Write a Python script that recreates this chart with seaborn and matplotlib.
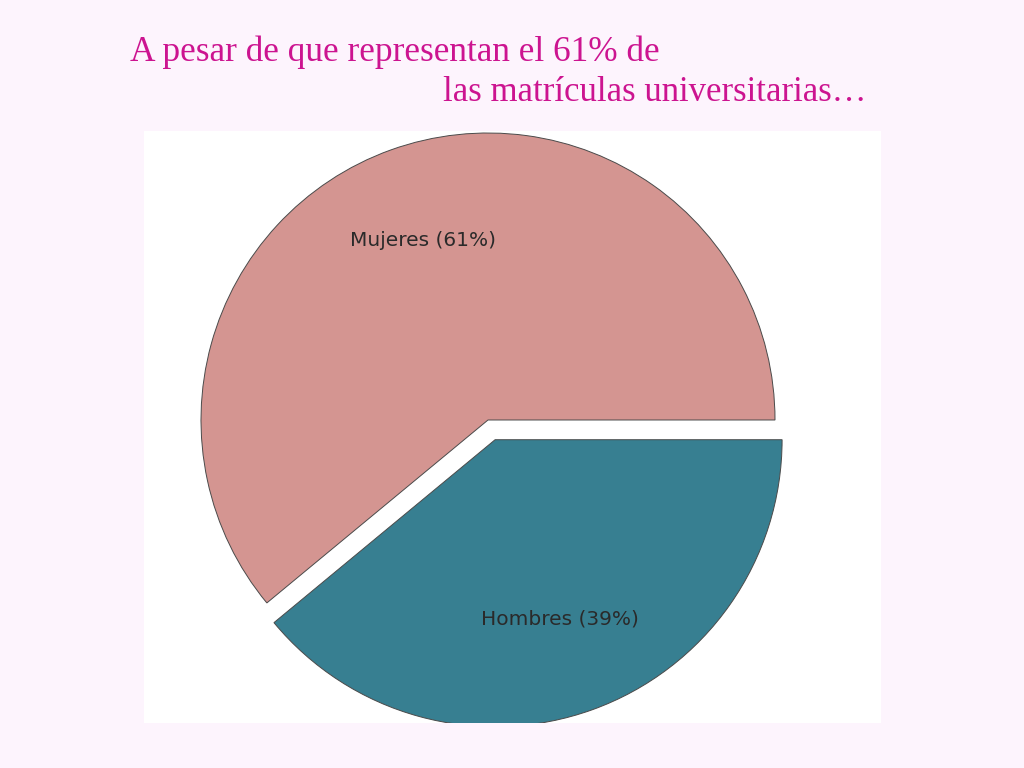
import matplotlib
matplotlib.use("Agg")
import matplotlib.pyplot as plt
import seaborn as sns

# Data
categories = ["Mujeres", "Hombres"]
shares = [61, 39]
slice_labels = ["Mujeres (61%)", "Hombres (39%)"]
title_line1 = "A pesar de que representan el 61% de"
title_line2 = "las matrículas universitarias…"

sns.set_style("white")
plt.rcParams["font.family"] = ["DejaVu Sans"]

colors = ["#d49591", "#377f91"]
bg = "#fdf4fd"

fig = plt.figure(figsize=(10.24, 7.68), dpi=100, facecolor=bg)

# white panel holding the pie (pixel layout: x 144..881, y 131..723)
W, H = 1024.0, 768.0
px_l, px_r, px_t, px_b = 144, 881, 131, 723
ax = fig.add_axes([px_l / W, (H - px_b) / H, (px_r - px_l) / W, (px_b - px_t) / H])

wedges, texts = ax.pie(
    shares,
    labels=slice_labels,
    colors=colors,
    startangle=0,
    counterclock=True,
    explode=[0, 0.073],
    labeldistance=0.665,
    wedgeprops=dict(edgecolor="#4a4a4a", linewidth=0.7),
    textprops=dict(fontsize=14.5, color="#2a2a2a"),
    frame=True,
)
for t in texts:
    t.set_ha("center")
    t.set_va("center")
for w in wedges:
    w.set_clip_on(True)
    w.set_clip_path(ax.patch)

# map pie centre to pixel (488, 420) with radius 287 px
cx, cy, r = 488, 420, 287
ax.set_aspect("auto")
ax.set_xlim(-(cx - px_l) / r, (px_r - cx) / r)
ax.set_ylim(-(px_b - cy) / r, (cy - px_t) / r)
ax.set_facecolor("white")
for s in ax.spines.values():
    s.set_visible(False)
ax.set_xticks([])
ax.set_yticks([])
ax.grid(False)

title_color = "#cc1490"
fig.text(130 / W, 1 - 61 / H, title_line1, fontsize=25.4, color=title_color,
         family=["Liberation Serif", "DejaVu Serif"], ha="left", va="baseline")
fig.text(443 / W, 1 - 101 / H, title_line2, fontsize=25, color=title_color,
         family=["Liberation Serif", "DejaVu Serif"], ha="left", va="baseline")

fig.savefig("out.png", dpi=100, facecolor=bg)
